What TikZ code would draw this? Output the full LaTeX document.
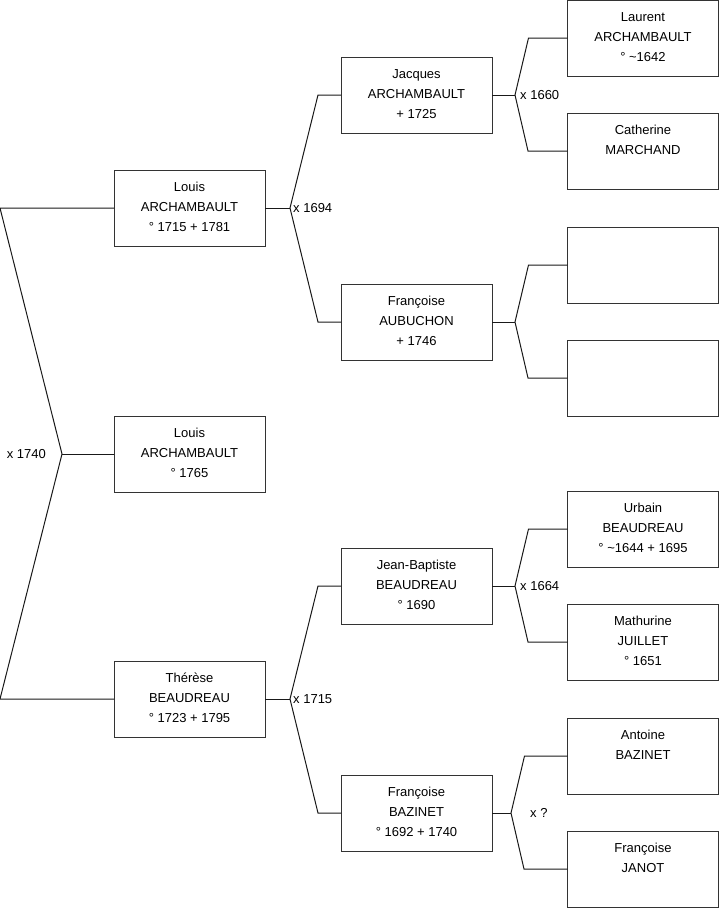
\documentclass[tikz,border=0pt]{standalone}
\usepackage{fontspec}
\setmainfont{Liberation Sans}
\begin{document}
\begin{tikzpicture}[x=1pt,y=-1pt,
  box/.style={draw=black!80, line width=0.9pt, minimum width=151pt, minimum height=76pt, inner sep=0pt, outer sep=0pt},
  txt/.style={font=\fontsize{13}{20}\selectfont, align=center, anchor=north, inner sep=0pt},
  lbl/.style={font=\fontsize{13}{16}\selectfont, inner sep=0pt},
  conn/.style={draw=black!90, line width=1pt}]
\useasboundingbox (0,0) rectangle (719,908);
\newcommand\person[3]{%
  \node[box] (#1) at (#2) {};
  \node[txt] (#1t) at ([yshift=-12pt]#1.north) {#3};}
% column 1
\person{la}{189.5,208}{Louis\\ARCHAMBAULT\\° 1715 + 1781}
\person{lb}{189.5,454}{Louis\\ARCHAMBAULT\\° 1765}
\person{th}{189.5,699}{Thérèse\\BEAUDREAU\\° 1723 + 1795}
% column 2
\person{ja}{416.5,95}{Jacques\\ARCHAMBAULT\\+ 1725}
\person{fa}{416.5,322}{Françoise\\AUBUCHON\\+ 1746}
\person{jb}{416.5,586}{Jean-Baptiste\\BEAUDREAU\\° 1690}
\person{fb}{416.5,813}{Françoise\\BAZINET\\° 1692 + 1740}
% column 3
\person{lr}{643,38}{Laurent\\ARCHAMBAULT\\° \textasciitilde1642}
\person{ca}{643,151}{Catherine\\MARCHAND}
\person{e1}{643,265}{}
\person{e2}{643,378}{}
\person{ub}{643,529}{Urbain\\BEAUDREAU\\° \textasciitilde1644 + 1695}
\person{ma}{643,642}{Mathurine\\JUILLET\\° 1651}
\person{an}{643,756}{Antoine\\BAZINET}
\person{fj}{643,869}{Françoise\\JANOT}
% vertices
\coordinate (v0) at (62,454);
\coordinate (v1) at (290,208);
\coordinate (v2) at (290,699);
\coordinate (v3) at (515,95);
\coordinate (v4) at (515,322);
\coordinate (v5) at (515,586);
\coordinate (v6) at (511,813);
% connectors
\draw[conn] (lb.west) -- (v0);
\draw[conn] (la.west) -- ++(-114,0) -- (v0) -- (0,699) -- (th.west);
\draw[conn] (la.east) -- (v1);
\draw[conn] (ja.west) -- ++(-23,0) -- (v1) -- (318,322) -- (fa.west);
\draw[conn] (th.east) -- (v2);
\draw[conn] (jb.west) -- ++(-23,0) -- (v2) -- (318,813) -- (fb.west);
\draw[conn] (ja.east) -- (v3);
\draw[conn] (lr.west) -- ++(-39,0) -- (v3) -- (528,151) -- (ca.west);
\draw[conn] (fa.east) -- (v4);
\draw[conn] (e1.west) -- ++(-39,0) -- (v4) -- (528,378) -- (e2.west);
\draw[conn] (jb.east) -- (v5);
\draw[conn] (ub.west) -- ++(-39,0) -- (v5) -- (528,642) -- (ma.west);
\draw[conn] (fb.east) -- (v6);
\draw[conn] (an.west) -- ++(-43,0) -- (v6) -- (524,869) -- (fj.west);
% labels
\node[lbl, anchor=east] (m0) at ([xshift=-16pt]v0) {x 1740};
\node[lbl, anchor=west] (m1) at ([xshift=3pt]v1) {x 1694};
\node[lbl, anchor=west] (m2) at ([xshift=3pt]v2) {x 1715};
\node[lbl, anchor=west] (m3) at ([xshift=5pt]v3) {x 1660};
\node[lbl, anchor=west] (m5) at ([xshift=5pt]v5) {x 1664};
\node[lbl, anchor=west] (m6) at ([xshift=19pt]v6) {x ?};
\end{tikzpicture}
\end{document}
